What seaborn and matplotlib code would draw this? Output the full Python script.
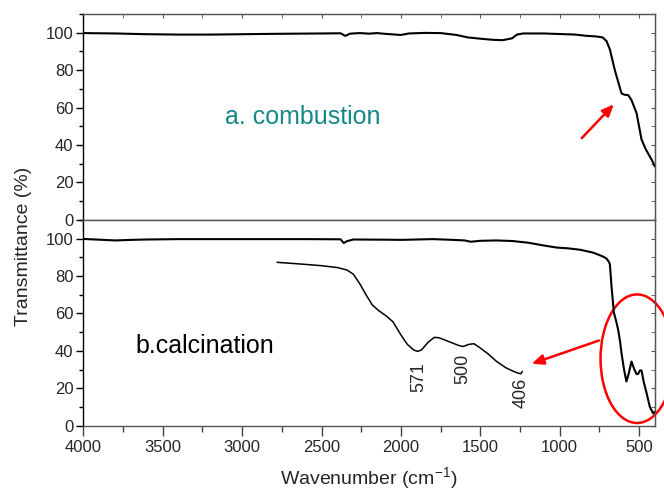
import matplotlib
matplotlib.use("Agg")
import matplotlib.pyplot as plt
from matplotlib.patches import Ellipse
from matplotlib.ticker import MultipleLocator
import seaborn as sns
import pandas as pd

# ---------------- data ----------------
top_wn = [4000, 3800, 3600, 3400, 3200, 3000, 2800, 2500, 2380, 2350, 2320, 2260, 2200, 2150,
          2100, 2000, 1950, 1850, 1750, 1650, 1580, 1500, 1420, 1360, 1300, 1270, 1230, 1100,
          1000, 900, 840, 770, 730, 705, 684, 653, 611, 590, 569, 548, 516, 485, 460, 443, 420, 401]
top_T = [99.8, 99.6, 99.2, 99.0, 99.0, 99.2, 99.4, 99.6, 99.7, 98.3, 99.5, 99.8, 99.5, 99.8,
         99.4, 98.8, 99.6, 99.9, 99.8, 98.8, 97.5, 96.8, 96.2, 96.0, 97.0, 99.0, 99.6, 99.6,
         99.3, 99.0, 98.4, 98.0, 97.5, 95.5, 91.0, 80.0, 67.6, 66.8, 66.7, 64.0, 57.0, 43.0, 38.0, 35.4, 32.0, 28.5]

bot_wn = [4000, 3900, 3800, 3700, 3600, 3400, 3000, 2600, 2380, 2360, 2340, 2300, 2100, 2000,
          1800, 1700, 1600, 1560, 1500, 1400, 1300, 1200, 1100, 1020, 950, 870, 790, 730, 705,
          690, 684, 674, 659, 645, 632, 620, 611, 595, 580, 565, 548, 530, 515, 506, 495, 485,
          470, 453, 433, 412, 401]
bot_T = [99.8, 99.4, 99.0, 99.3, 99.5, 99.7, 99.7, 99.7, 99.6, 97.6, 98.6, 99.5, 99.4, 99.3,
         99.7, 99.4, 99.0, 98.3, 98.8, 99.0, 98.7, 97.8, 96.3, 95.2, 94.8, 94.0, 92.5, 90.5, 89.3,
         87.5, 86.2, 74.6, 60.5, 56.0, 51.3, 45.0, 38.8, 30.0, 23.6, 28.0, 34.3, 30.0, 27.5, 27.7,
         29.5, 29.5, 23.0, 17.4, 10.2, 6.6, 7.5]

inset_wn = [2780, 2600, 2500, 2400, 2340, 2300, 2260, 2220, 2180, 2140, 2090, 2050, 2000, 1960,
            1920, 1895, 1870, 1830, 1790, 1760, 1700, 1640, 1610, 1570, 1540, 1500, 1450, 1400,
            1340, 1290, 1260, 1245, 1235]
inset_T = [87.3, 86.2, 85.5, 84.5, 83.2, 81.0, 76.0, 70.0, 64.5, 61.5, 58.5, 55.5, 48.5, 43.5,
           40.5, 39.7, 40.5, 44.5, 47.2, 47.0, 45.0, 43.0, 42.3, 43.5, 43.8, 41.5, 38.3, 34.5,
           31.0, 29.0, 28.0, 27.8, 29.0]

peak_labels = ["571", "500", "406"]
peak_label_wn = [1887, 1610, 1245]
peak_label_T = [25.9, 30.4, 17.3]

x_ticks = [4000, 3500, 3000, 2500, 2000, 1500, 1000, 500]
y_ticks = [0, 20, 40, 60, 80, 100]

# ---------------- style ----------------
sns.set_style("ticks")
plt.rcParams['font.family'] = ['Liberation Sans', 'DejaVu Sans']
plt.rcParams['mathtext.fontset'] = 'custom'
plt.rcParams['mathtext.rm'] = 'Liberation Sans'
plt.rcParams['mathtext.it'] = 'Liberation Sans:italic'

fig, (ax1, ax2) = plt.subplots(2, 1, sharex=True, figsize=(6.64, 4.9), dpi=100,
                               gridspec_kw=dict(hspace=0))
fig.subplots_adjust(left=83.3 / 664, right=655 / 664, top=1 - 14 / 490, bottom=1 - 425.7 / 490)

df_top = pd.DataFrame({"wn": top_wn, "T": top_T})
df_bot = pd.DataFrame({"wn": bot_wn, "T": bot_T})
df_ins = pd.DataFrame({"wn": inset_wn, "T": inset_T})

sns.lineplot(data=df_top, x="wn", y="T", ax=ax1, color="black", linewidth=1.5)
sns.lineplot(data=df_bot, x="wn", y="T", ax=ax2, color="black", linewidth=1.5)
sns.lineplot(data=df_ins, x="wn", y="T", ax=ax2, color="black", linewidth=1.1)

for ax in (ax1, ax2):
    ax.set_xlim(4000, 400)
    ax.set_ylim(0, 110)
    ax.set_xlabel("")
    ax.set_ylabel("")
    ax.set_yticks(y_ticks)
    ax.yaxis.set_minor_locator(MultipleLocator(10))
    ax.set_xticks(x_ticks)
    ax.xaxis.set_minor_locator(MultipleLocator(250))
    ax.tick_params(axis='y', which='major', direction='out', length=5, width=1, labelsize=12,
                   color='black', pad=2)
    ax.tick_params(axis='y', which='minor', direction='out', length=3, width=1, color='black')
    ax.tick_params(axis='x', which='major', direction='out', length=7, width=1, labelsize=12,
                   color='#444444', pad=3)
    ax.tick_params(axis='x', which='minor', direction='out', length=4, width=1, color='#444444')
    ax.spines['left'].set_color('black')
    for s in ('top', 'right', 'bottom'):
        ax.spines[s].set_color('#555555')
    for s in ax.spines.values():
        s.set_linewidth(1.0)
    # inward ticks on right side
    sec = ax.secondary_yaxis('right')
    sec.set_yticks(y_ticks)
    sec.yaxis.set_minor_locator(MultipleLocator(10))
    sec.tick_params(axis='y', which='both', direction='in', length=3, labelright=False,
                    color='#555555')
    sec.spines['right'].set_color('#555555')

ax1.tick_params(axis='x', labelbottom=False)
# inward ticks on top of the upper panel
sect = ax1.secondary_xaxis('top')
sect.set_xticks(x_ticks)
sect.xaxis.set_minor_locator(MultipleLocator(250))
sect.tick_params(axis='x', which='both', direction='in', length=3, labeltop=False, color='#555555')
sect.spines['top'].set_color('#777777')

# annotations
ax1.text(2617, 55, "a. combustion", color="#16888a", fontsize=18, ha="center", va="center")
ax1.annotate("", xy=(647, 62.8), xytext=(873, 42.6),
             arrowprops=dict(arrowstyle="-|>,head_length=0.7,head_width=0.3", color="red", lw=1.8))

ax2.text(3237, 42.5, "b.calcination", color="black", fontsize=18, ha="center", va="center")
for lab, xw, yt in zip(peak_labels, peak_label_wn, peak_label_T):
    ax2.text(xw, yt, lab, rotation=90, fontsize=13, ha="center", va="center")

ell = Ellipse((513, 35.8), width=460, height=68.7, fill=False, edgecolor="red", lw=1.8,
              clip_on=False)
ax2.add_patch(ell)
ax2.annotate("", xy=(1193, 32.6), xytext=(737, 46),
             arrowprops=dict(arrowstyle="-|>,head_length=0.7,head_width=0.3", color="red", lw=1.8))

fig.text(24 / 664, 1 - 246 / 490, "Transmittance (%)", rotation=90, fontsize=14,
         ha="center", va="center")
fig.text(369 / 664, 1 - 478 / 490, r"Wavenumber (cm$^{\mathregular{-1}}$)", fontsize=14,
         ha="center", va="center")

fig.savefig("out.png", dpi=100)
